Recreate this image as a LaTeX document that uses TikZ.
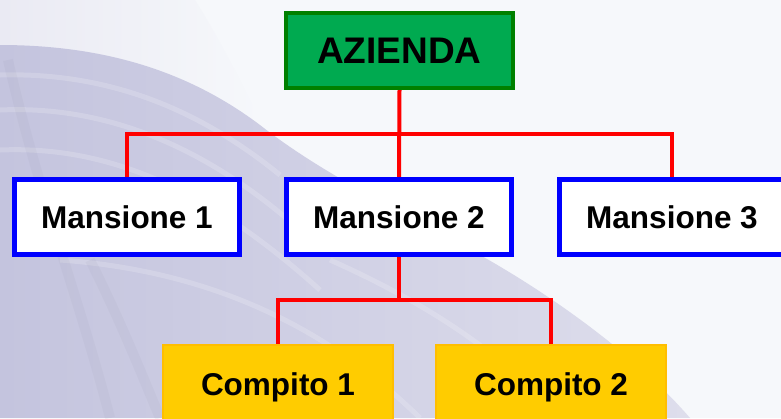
\documentclass[tikz,border=0pt]{standalone}
\usepackage{fontspec}
\setmainfont{Liberation Sans}
\pgfdeclarelayer{bg}
\pgfdeclarelayer{wires}
\pgfsetlayers{bg,wires,main}
\definecolor{azgreen}{RGB}{0,170,80}
\definecolor{azborder}{RGB}{0,128,0}
\definecolor{mblue}{RGB}{0,0,255}
\definecolor{cyellow}{RGB}{255,204,0}
\definecolor{cborder}{RGB}{255,190,0}
\definecolor{wirered}{RGB}{255,0,0}
\definecolor{paper}{RGB}{246,248,251}
\definecolor{lavdark}{RGB}{196,196,222}
\definecolor{lav}{RGB}{206,206,228}
\definecolor{lavlight}{RGB}{222,222,236}
\definecolor{lavpale}{RGB}{234,234,243}
\begin{document}
\begin{tikzpicture}[x=1pt,y=-1pt,
  box/.style={rectangle, text=black, inner sep=0pt, text depth=0pt,
    font=\bfseries\fontsize{31.5}{36}\selectfont},
  topbox/.style={box, draw=azborder, fill=azgreen, line width=4pt,
    minimum width=227pt, minimum height=75pt,
    font=\bfseries\fontsize{37}{40}\selectfont},
  midbox/.style={box, draw=mblue, fill=white, line width=5pt,
    minimum width=225pt, minimum height=75pt},
  lowbox/.style={box, draw=cborder, fill=cyellow, line width=2pt,
    minimum width=230pt, minimum height=78pt},
  wire/.style={draw=wirered, line width=4pt},
  streak/.style={white, opacity=0.18, line width=5pt},
  darkstreak/.style={lavdark!70!black, opacity=0.07, line width=10pt}]
\useasboundingbox (0,0) rectangle (781,418);

\begin{pgfonlayer}{bg}
  \clip (0,0) rectangle (781,418);
  \fill[paper] (0,0) rectangle (781,418);
  % light upper swoosh
  \shade[left color=lavpale, right color=paper]
    (0,0) -- (195,0) .. controls (220,40) and (240,80) .. (262,125)
    -- (0,45) -- cycle;
  % main lavender swoosh
  \shade[left color=lavdark, right color=lavlight]
    (0,45) .. controls (120,45) and (200,80) .. (260,125)
    .. controls (330,180) and (420,220) .. (480,255)
    .. controls (560,300) and (640,360) .. (690,418)
    -- (0,418) -- cycle;
  % texture streaks
  \draw[streak] (0,75) .. controls (110,72) and (200,110) .. (280,175);
  \draw[streak] (0,110) .. controls (110,105) and (210,150) .. (300,230);
  \draw[streak] (0,150) .. controls (120,145) and (220,200) .. (320,290);
  \draw[streak] (60,260) .. controls (200,270) and (320,320) .. (420,418);
  \draw[streak] (330,260) .. controls (420,300) and (500,350) .. (560,418);
  \draw[darkstreak] (8,60) .. controls (40,200) and (80,300) .. (110,418);
  \draw[darkstreak] (90,260) .. controls (120,320) and (140,370) .. (160,418);
\end{pgfonlayer}

\node[topbox] (az) at (399.5,50.5) {AZIENDA};
\node[midbox] (m1) at (127,217) {Mansione 1};
\node[midbox] (m2) at (399,217) {Mansione 2};
\node[midbox] (m3) at (672,217) {Mansione 3};
\node[lowbox] (c1) at (278,384) {Compito 1};
\node[lowbox] (c2) at (551,384) {Compito 2};

\coordinate (j1) at (399,134);
\coordinate (j2) at (399,300);

\begin{pgfonlayer}{wires}
  \draw[wire] (az.south) -- (m2.north);
  \draw[wire] (m1.north) |- (j1) -| (m3.north);
  \draw[wire] (m2.south) -- (j2);
  \draw[wire] (c1.north) |- (j2) -| (c2.north);
\end{pgfonlayer}
\end{tikzpicture}
\end{document}
